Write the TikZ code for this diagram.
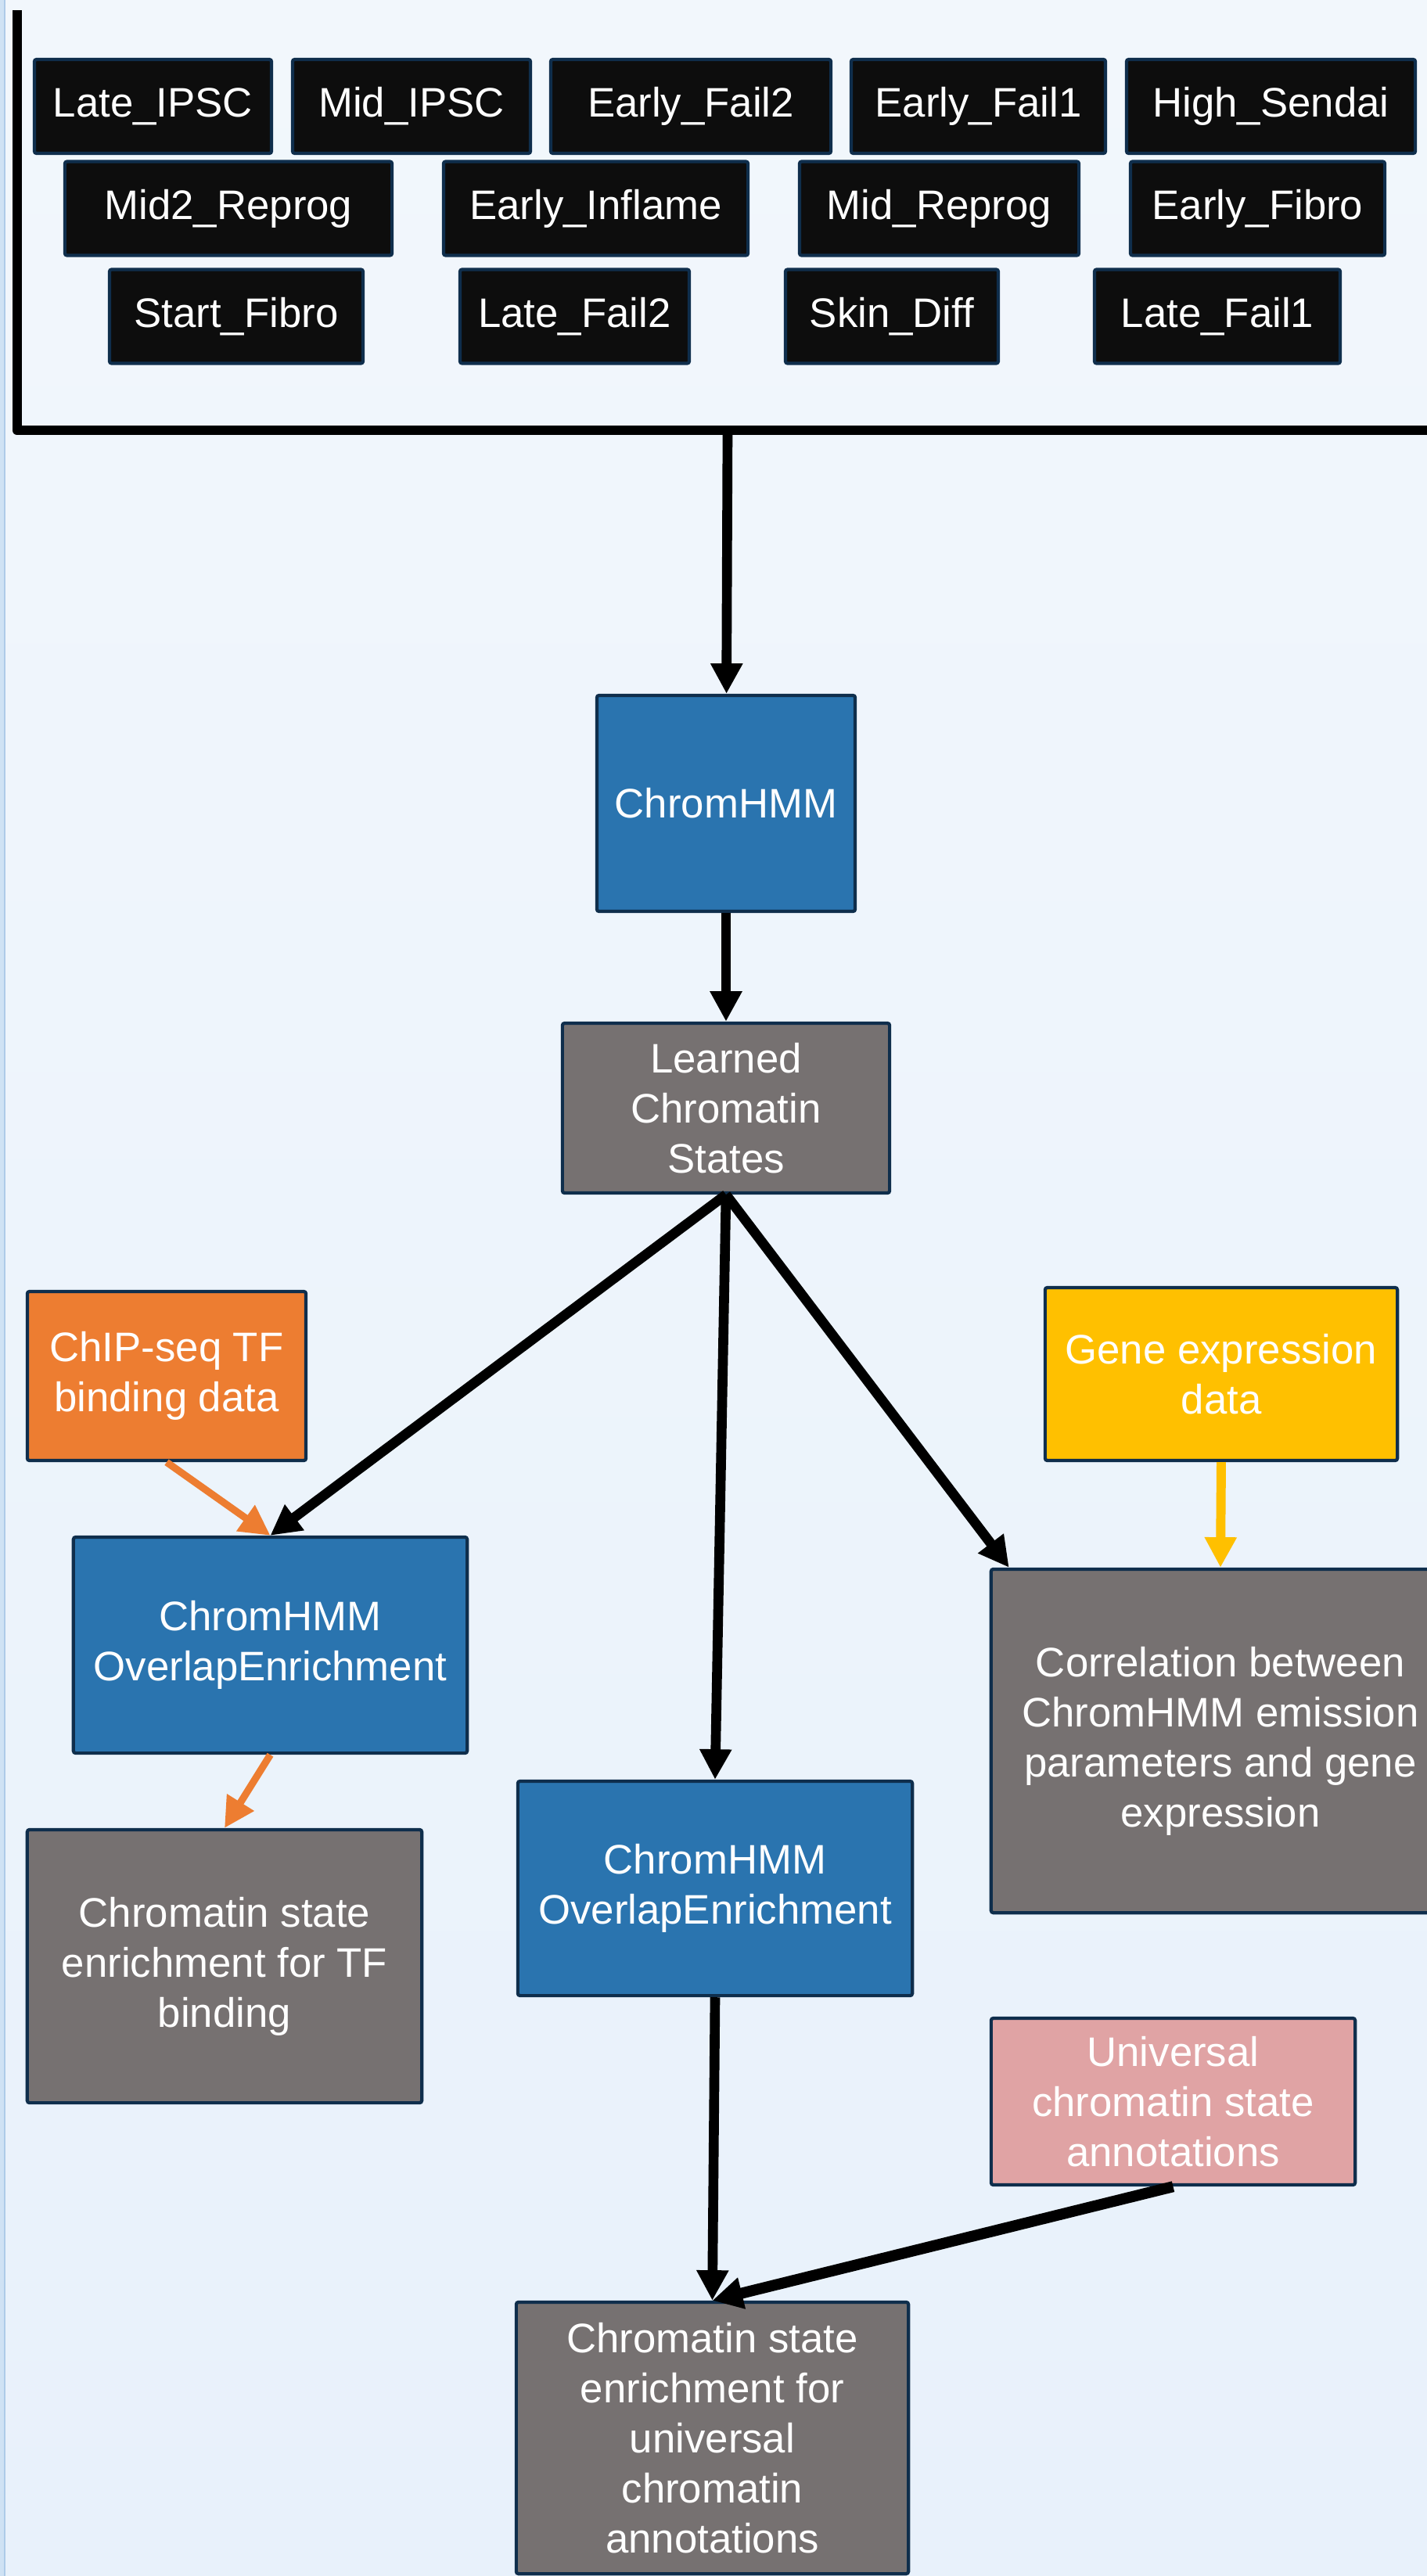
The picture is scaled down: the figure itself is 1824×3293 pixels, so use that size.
\documentclass[tikz,border=0pt]{standalone}
\usepackage{fontspec}
\setmainfont{Liberation Sans}
\usetikzlibrary{arrows.meta}

\definecolor{bgtop}{HTML}{F2F7FC}
\definecolor{bgbot}{HTML}{E8F1FB}
\definecolor{stripblue}{HTML}{CFE2F4}
\definecolor{stripline}{HTML}{AECBE8}
\definecolor{edgeblue}{HTML}{0F2E4C}
\definecolor{tagfill}{HTML}{0D0D0D}
\definecolor{toolblue}{HTML}{2A74AF}
\definecolor{resgray}{HTML}{767171}
\definecolor{chiporange}{HTML}{ED7D31}
\definecolor{geneyellow}{HTML}{FFC000}
\definecolor{univpink}{HTML}{E0A3A4}

\begin{document}
\begin{tikzpicture}[x=0.01cm, y=-0.01cm,
  box/.style={rectangle, draw=edgeblue, line width=1.2pt, rounded corners=0.8pt, text=white, align=center, inner sep=2pt, font=\fontsize{15}{18.2}\selectfont},
  sample/.style={box, fill=tagfill, minimum height=1.2cm},
  tool/.style={box, fill=toolblue},
  result/.style={box, fill=resgray},
  datain/.style={box, fill=#1},
  arrow/.style={line width=3.6pt, ->, >={Triangle[width=11pt,length=11pt]}}]

% page and background
\clip (0,0) rectangle (1824,3293);
\fill[top color=bgtop, bottom color=bgbot] (0,0) rectangle (1824,3293);
\fill[stripblue] (0,0) rectangle (5,3293);
\draw[stripline, line width=0.6pt] (6,0) -- (6,3293);

% samples
\node[sample, minimum width=3.03cm] (lateipsc) at (195.5,136) {Late\_IPSC};
\node[sample, minimum width=3.04cm] (midipsc) at (526,136) {Mid\_IPSC};
\node[sample, minimum width=3.58cm] (earlyfail2) at (883,136) {Early\_Fail2};
\node[sample, minimum width=3.25cm] (earlyfail1) at (1250.5,136) {Early\_Fail1};
\node[sample, minimum width=3.69cm] (highsendai) at (1624.5,136) {High\_Sendai};

\node[sample, minimum width=4.18cm] (mid2reprog) at (292,266.5) {Mid2\_Reprog};
\node[sample, minimum width=3.89cm] (earlyinflame) at (761.5,266.5) {Early\_Inflame};
\node[sample, minimum width=3.57cm] (midreprog) at (1200.5,266.5) {Mid\_Reprog};
\node[sample, minimum width=3.25cm] (earlyfibro) at (1607.5,266.5) {Early\_Fibro};

\node[sample, minimum width=3.24cm] (startfibro) at (302,404.5) {Start\_Fibro};
\node[sample, minimum width=2.93cm] (latefail2) at (734.5,404.5) {Late\_Fail2};
\node[sample, minimum width=2.72cm] (skindiff) at (1140,404.5) {Skin\_Diff};
\node[sample, minimum width=3.14cm] (latefail1) at (1556,404.5) {Late\_Fail1};

% bracket round the samples
\draw[line width=3.6pt, line join=round] (22,13) -- (22,550) -- (1830,550);
\coordinate (bar) at (930,550);

% pipeline
\node[tool, minimum width=3.3cm, minimum height=2.76cm] (chromhmm) at (928,1027) {ChromHMM};
\node[result, minimum width=4.18cm, minimum height=2.17cm] (learned) at (928,1416.5) {Learned\\Chromatin\\States};

\node[datain=chiporange, minimum width=3.56cm, minimum height=2.16cm] (chip) at (213,1759) {ChIP-seq TF\\binding data};
\node[datain=geneyellow, minimum width=4.5cm, minimum height=2.21cm] (gene) at (1561,1756.5) {Gene expression\\data};

\node[tool, minimum width=5.03cm, minimum height=2.76cm] (overlapA) at (345.5,2103) {ChromHMM\\OverlapEnrichment};
\node[result, minimum width=5.04cm, minimum height=3.49cm] (tfenrich) at (287,2513.5) {Chromatin state\\enrichment for TF\\binding};

\node[result, minimum width=5.86cm, minimum height=4.39cm] (corr) at (1560,2225.5) {Correlation between\\ChromHMM emission\\parameters and gene\\expression};

\node[tool, minimum width=5.04cm, minimum height=2.74cm] (overlapB) at (914,2414) {ChromHMM\\OverlapEnrichment};
\node[datain=univpink, minimum width=4.65cm, minimum height=2.13cm] (univ) at (1499.5,2686.5) {Universal\\chromatin state\\annotations};
\node[result, minimum width=5.01cm, minimum height=3.47cm] (univenrich) at (910.5,3116.5) {Chromatin state\\enrichment for\\universal\\chromatin\\annotations};

\draw[arrow] (bar) -- (chromhmm);
\draw[arrow] (chromhmm) -- (learned);
\draw[arrow] (learned.south) -- (overlapA.north);
\draw[arrow] (learned.south) -- (overlapB.north);
\draw[arrow] (learned.south) -- ([xshift=0.25cm]corr.north west);

\draw[arrow, chiporange, line width=2.6pt] (chip.south) -- (overlapA.north);
\draw[arrow, chiporange, line width=2.6pt] (overlapA.south) -- (tfenrich.north);
\draw[arrow, geneyellow, line width=3.4pt] (gene.south) -- (corr.north);

\draw[arrow] (overlapB.south) -- (univenrich.north);
\draw[arrow, line width=4pt] (univ.south) -- (univenrich.north);

\end{tikzpicture}
\end{document}
